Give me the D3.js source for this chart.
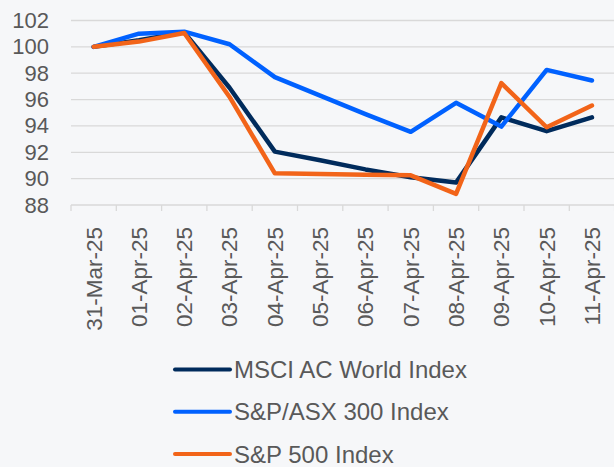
<!DOCTYPE html>
<html lang="en">
<head>
    <meta charset="UTF-8">
    <title>Index performance</title>
    <style>
        html, body {
            margin: 0;
            padding: 0;
            background: #f6f7f9;
        }
        svg {
            display: block;
            font-family: "Liberation Sans", Arial, sans-serif;
        }
        .tick text {
            fill: #595959;
        }
    </style>
</head>
<body>
    <div id="chart"></div>

    <script src="https://d3js.org/d3.v7.min.js"></script>
    <script>
        // Dates (categories)
        const dates = ["31-Mar-25", "01-Apr-25", "02-Apr-25", "03-Apr-25", "04-Apr-25", "05-Apr-25",
                       "06-Apr-25", "07-Apr-25", "08-Apr-25", "09-Apr-25", "10-Apr-25", "11-Apr-25"];

        // Series values (rebased to 100)
        const msciWorld = [100, 100.5, 101.1, 96.9, 92.05, 91.4, 90.7, 90.1, 89.7, 94.65, 93.6, 94.65];
        const asx300 = [100, 101.0, 101.15, 100.2, 97.7, 96.3, 94.9, 93.55, 95.75, 93.95, 98.25, 97.45];
        const sp500 = [100, 100.4, 101.05, 96.2, 90.4, 90.35, 90.3, 90.25, 88.85, 97.25, 93.9, 95.55];

        const seriesNames = ["MSCI AC World Index", "S&P/ASX 300 Index", "S&P 500 Index"];
        const seriesColors = ["#002b5c", "#0061ff", "#f26419"];

        const yTicks = [88, 90, 92, 94, 96, 98, 100, 102];

        function createChart() {
            const W = 614, H = 467;
            const margin = { left: 71, right: 0, top: 20.5, bottom: 262 };

            const svg = d3.select("#chart")
                .append("svg")
                .attr("width", W)
                .attr("height", H);

            const x = d3.scaleBand()
                .domain(dates)
                .range([margin.left, margin.left + 45.3 * dates.length]);

            const y = d3.scaleLinear()
                .domain([88, 102])
                .range([205, 20.5]);

            // Gridlines
            svg.append("g")
                .selectAll("line")
                .data(yTicks)
                .enter()
                .append("line")
                .attr("x1", margin.left)
                .attr("x2", W)
                .attr("y1", d => y(d))
                .attr("y2", d => y(d))
                .attr("stroke", "#d9d9d9")
                .attr("stroke-width", 1.3);

            // Y axis labels
            const yAxis = svg.append("g")
                .attr("transform", `translate(${margin.left},0)`)
                .call(d3.axisLeft(y).tickValues(yTicks).tickSize(0).tickPadding(22));
            yAxis.select(".domain").remove();
            yAxis.selectAll("text")
                .style("font-size", "22px")
                .attr("fill", "#595959");

            // X axis: tick marks at band boundaries
            const xAxis = svg.append("g")
                .attr("transform", `translate(0,${y(88)})`);
            xAxis.selectAll("line")
                .data(dates.concat(["end"]))
                .enter()
                .append("line")
                .attr("x1", (d, i) => x.range()[0] + i * x.bandwidth())
                .attr("x2", (d, i) => x.range()[0] + i * x.bandwidth())
                .attr("y1", 0)
                .attr("y2", 6)
                .attr("stroke", "#d9d9d9")
                .attr("stroke-width", 1.3);

            xAxis.selectAll("text")
                .data(dates)
                .enter()
                .append("text")
                .attr("transform", d => `translate(${x(d) + x.bandwidth() / 2},22) rotate(-90)`)
                .attr("text-anchor", "end")
                .attr("dy", "0.35em")
                .style("font-size", "22.5px")
                .attr("fill", "#595959")
                .text(d => d);

            // Lines
            const allSeries = [msciWorld, asx300, sp500];
            const line = d3.line()
                .x((d, i) => x(dates[i]) + x.bandwidth() / 2)
                .y(d => y(d));

            svg.append("g")
                .selectAll("path")
                .data(allSeries)
                .enter()
                .append("path")
                .attr("d", d => line(d))
                .attr("fill", "none")
                .attr("stroke", (d, i) => seriesColors[i])
                .attr("stroke-width", 4.5)
                .attr("stroke-linejoin", "round")
                .attr("stroke-linecap", "round");

            // Legend
            const legend = svg.append("g");
            const rows = legend.selectAll("g")
                .data(seriesNames)
                .enter()
                .append("g")
                .attr("transform", (d, i) => `translate(175,${369.5 + i * 42.3})`);
            rows.append("line")
                .attr("x1", 0)
                .attr("x2", 55)
                .attr("stroke", (d, i) => seriesColors[i])
                .attr("stroke-width", 4)
                .attr("stroke-linecap", "round");
            rows.append("text")
                .attr("x", 59)
                .attr("dy", "0.36em")
                .style("font-size", "24px")
                .attr("fill", "#595959")
                .text(d => d);
        }

        createChart();
    </script>
</body>
</html>
